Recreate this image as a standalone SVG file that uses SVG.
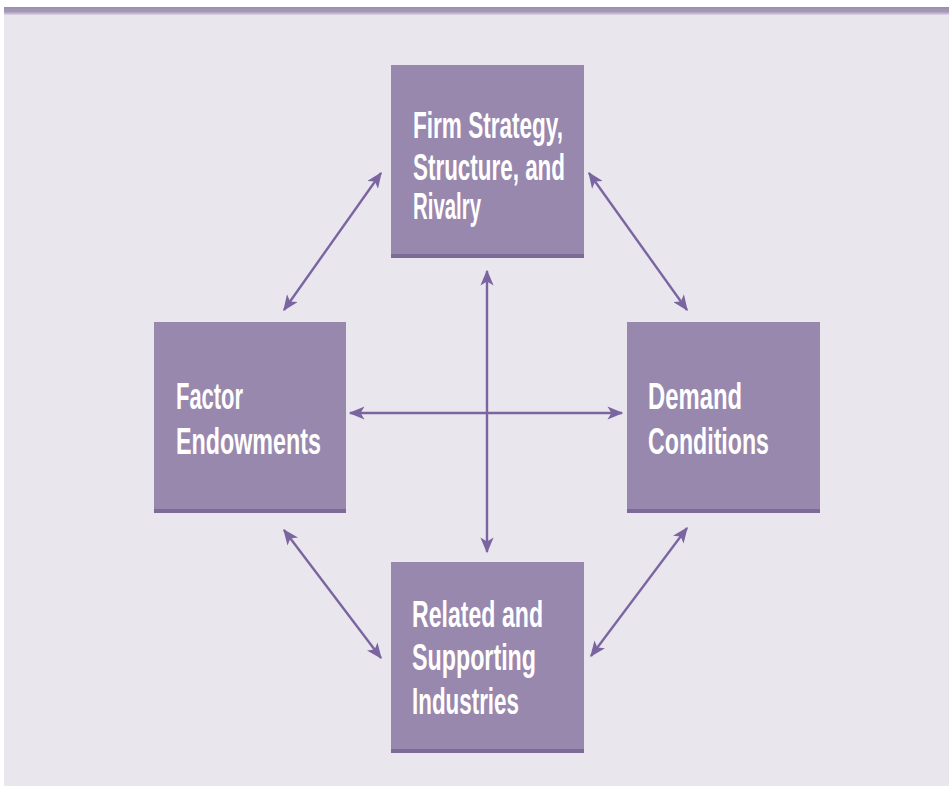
<svg xmlns="http://www.w3.org/2000/svg" width="949" height="786" viewBox="0 0 949 786">
<defs>
<linearGradient id="bar" x1="0" y1="0" x2="0" y2="1">
<stop offset="0" stop-color="#9C8DB0"/>
<stop offset="0.6" stop-color="#A79AB8"/>
<stop offset="1" stop-color="#DCD6E3"/>
</linearGradient>
<marker id="ah" viewBox="0 0 12 10" refX="11" refY="5" markerWidth="7" markerHeight="5.5" orient="auto-start-reverse" markerUnits="strokeWidth">
<path d="M0,0 L12,5 L0,10 L3,5 Z" fill="#7B65A0"/>
</marker>
<style>
.box{fill:#9988AD}
.edge{fill:#7E6A98}
.t{font-family:"Liberation Sans",Arial,sans-serif;font-weight:bold;font-size:36px;fill:#FFFFFF}
.c{stroke:#7B65A0;stroke-width:2.4;fill:none;marker-start:url(#ah);marker-end:url(#ah)}
</style>
</defs>
<rect x="0" y="0" width="949" height="786" fill="#FFFFFF"/>
<rect x="4" y="7" width="945" height="779" fill="#E9E6EE"/>
<rect x="4" y="7" width="945" height="8" fill="url(#bar)"/>

<g id="connectors">
<line class="c" x1="284" y1="310" x2="381" y2="173"/>
<line class="c" x1="589" y1="173" x2="687" y2="310"/>
<line class="c" x1="284" y1="530" x2="381" y2="658"/>
<line class="c" x1="687" y1="528" x2="591" y2="656"/>
<line class="c" x1="487" y1="271" x2="487" y2="552"/>
<line class="c" x1="350" y1="413" x2="622" y2="413"/>
</g>

<g id="firm">
<rect class="box" x="391" y="65" width="193" height="193"/>
<rect class="edge" x="391" y="254" width="193" height="4"/>
<text class="t" x="413" y="138" textLength="150" lengthAdjust="spacingAndGlyphs">Firm Strategy,</text>
<text class="t" x="413" y="180" textLength="152" lengthAdjust="spacingAndGlyphs">Structure, and</text>
<text class="t" x="413" y="219" textLength="68" lengthAdjust="spacingAndGlyphs">Rivalry</text>
</g>

<g id="factor">
<rect class="box" x="154" y="322" width="192" height="191"/>
<rect class="edge" x="154" y="509" width="192" height="4"/>
<text class="t" x="176" y="409" textLength="67" lengthAdjust="spacingAndGlyphs">Factor</text>
<text class="t" x="176" y="454" textLength="145" lengthAdjust="spacingAndGlyphs">Endowments</text>
</g>

<g id="demand">
<rect class="box" x="627" y="322" width="193" height="191"/>
<rect class="edge" x="627" y="509" width="193" height="4"/>
<text class="t" x="648" y="409" textLength="94" lengthAdjust="spacingAndGlyphs">Demand</text>
<text class="t" x="648" y="454" textLength="121" lengthAdjust="spacingAndGlyphs">Conditions</text>
</g>

<g id="related">
<rect class="box" x="391" y="562" width="193" height="191"/>
<rect class="edge" x="391" y="749" width="193" height="4"/>
<text class="t" x="412" y="627" textLength="131" lengthAdjust="spacingAndGlyphs">Related and</text>
<text class="t" x="412" y="670" textLength="124" lengthAdjust="spacingAndGlyphs">Supporting</text>
<text class="t" x="412" y="714" textLength="107" lengthAdjust="spacingAndGlyphs">Industries</text>
</g>
</svg>
